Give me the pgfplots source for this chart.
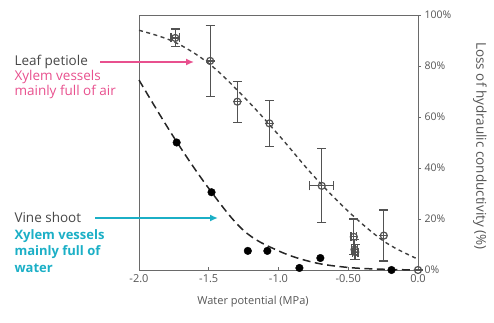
\documentclass[border=0pt]{standalone}
\usepackage{pgfplots}
\pgfplotsset{compat=1.18}
\usetikzlibrary{arrows.meta}
\usepackage{fontspec}
\setmainfont{Open Sans}
\definecolor{pinkc}{HTML}{E8508E}
\definecolor{cyanc}{HTML}{1BAFC6}
\definecolor{axg}{HTML}{6A6A6A}
\definecolor{txtg}{HTML}{555555}
\begin{document}
\begin{tikzpicture}
\path[use as bounding box] (0pt,0pt) rectangle (494pt,322pt);
\begin{axis}[
  at={(139pt,52pt)}, anchor=south west,
  scale only axis, width=279pt, height=255pt,
  xmin=-2, xmax=0, ymin=0, ymax=100,
  axis line style={axg, line width=0.9pt},
  xtick={-2,-1.5,-1,-0.5,0},
  xticklabels={-2.0,-1.5,-1.0,-0.50,0.0},
  xtick pos=bottom, ytick pos=right, yticklabel pos=right,
  ytick={0,20,40,60,80,100},
  yticklabels={0\%,20\%,40\%,60\%,80\%,100\%},
  tick style={axg, line width=0.7pt},
  x tick label style={font=\fontsize{11}{13}\selectfont, text=txtg, yshift=-1pt},
  y tick label style={font=\fontsize{10.5}{12}\selectfont, text=txtg},
  /pgf/number format/assume math mode=true,
  major tick length=3pt,
  xtick align=inside, ytick align=outside,
  clip=false,
]
% leaf petiole fit
\addplot[black!75, line width=1.4pt, dash pattern=on 4pt off 3.5pt, smooth, tension=0.6] coordinates {
(-2.0,94) (-1.75,89.5) (-1.5,81) (-1.25,68) (-1.0,53) (-0.75,37) (-0.5,23) (-0.25,11.5) (-0.05,5.5) (0,4.5)};
% vine shoot fit
\addplot[black!85, line width=1.5pt, dash pattern=on 8pt off 4.5pt, smooth, tension=0.6] coordinates {
(-2.0,74.5) (-1.75,52) (-1.5,32) (-1.25,15.5) (-1.0,7.5) (-0.75,3) (-0.5,1) (-0.25,0.3) (0,0)};
% leaf petiole data
\addplot[only marks, mark=o, mark size=3.5pt, black!68, line width=1.2pt,
  error bars/.cd, x dir=both, x explicit, y dir=both, y explicit,
  error bar style={black!68, line width=1.2pt},
  error mark options={rotate=90, mark size=4.5pt, black!68, line width=1.2pt}]
  table[x=x, y=y, x error=ex, y error=ey] {
x y ex ey
-1.74 91 0.03 3.5
-1.49 82 0 14
-1.295 66 0 8
-1.065 57.5 0 9
-0.69 33 0.085 14.5
-0.46 13 0.02 7
-0.455 8 0.02 4
-0.45 7 0.02 3
-0.245 13.5 0 10
0 0 0 0
};
% vine shoot data
\addplot[only marks, mark=*, mark size=3.8pt, black] coordinates {
(-1.73,50) (-1.48,30.5) (-1.22,7.5) (-1.08,7.5) (-0.85,0.8) (-0.7,4.7) (-0.19,0)};
\end{axis}
% annotations
\node[anchor=west, text=black!72, font=\fontsize{13.5}{15}\selectfont] at (11pt,260pt) {Leaf petiole};
\node[anchor=west, text=pinkc, font=\fontsize{13.5}{15}\selectfont] at (11pt,245pt) {Xylem vessels};
\node[anchor=west, text=pinkc, font=\fontsize{13.5}{15}\selectfont] at (11pt,230pt) {mainly full of air};
\draw[pinkc, line width=1.5pt, -{Latex[length=8pt,width=7pt]}] (100pt,260pt) -- (194pt,260pt);
\node[anchor=west, text=black!72, font=\fontsize{13.5}{15}\selectfont] at (11pt,105pt) {Vine shoot};
\node[anchor=west, text=cyanc, font=\bfseries\fontsize{13}{15}\selectfont] at (11pt,86pt) {Xylem vessels};
\node[anchor=west, text=cyanc, font=\bfseries\fontsize{13}{15}\selectfont] at (11pt,70pt) {mainly full of};
\node[anchor=west, text=cyanc, font=\bfseries\fontsize{13}{15}\selectfont] at (11pt,54pt) {water};
\draw[cyanc, line width=1.8pt, -{Latex[length=8pt,width=7pt]}] (95pt,104pt) -- (218pt,104pt);
\node[text=txtg, font=\fontsize{11}{13}\selectfont] at (253pt,20pt) {Water potential (MPa)};
\node[text=txtg, rotate=-90, font=\fontsize{13.5}{15}\selectfont] at (480pt,176pt) {Loss of hydraulic conductivity (\%)};
\end{tikzpicture}
\end{document}
